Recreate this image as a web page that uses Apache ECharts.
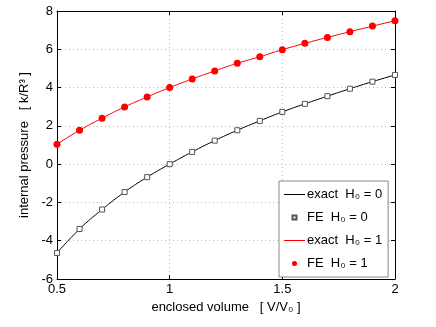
<!DOCTYPE html>
<html>
<head>
<meta charset="utf-8">
<script src="https://cdn.jsdelivr.net/npm/echarts@6/dist/echarts.min.js"></script>
<style>
    html, body { margin: 0; padding: 0; background: #fff; }
    #chart { width: 436px; height: 327px; }
</style>
</head>
<body>
<div id="chart"></div>
<script>
// enclosed volume V/V0
var vol = [0.5, 0.6, 0.7, 0.8, 0.9, 1.0, 1.1, 1.2, 1.3, 1.4, 1.5, 1.6, 1.7, 1.8, 1.9, 2.0];
// internal pressure, H0 = 0
var fe0 = [-4.64, -3.39, -2.37, -1.46, -0.68, 0.0, 0.64, 1.23, 1.77, 2.26, 2.73, 3.15, 3.55, 3.94, 4.31, 4.66];
// internal pressure, H0 = 1
var fe1 = [1.04, 1.77, 2.40, 2.99, 3.51, 4.0, 4.45, 4.87, 5.27, 5.61, 5.98, 6.31, 6.62, 6.92, 7.21, 7.49];

var names = ['exact  H\u2080 = 0', 'FE  H\u2080 = 0', 'exact  H\u2080 = 1', 'FE  H\u2080 = 1'];

function pairs(xs, ys) {
    var out = [];
    for (var i = 0; i < xs.length; i++) {
        out.push([xs[i], ys[i]]);
    }
    return out;
}

var font = 'Liberation Sans, Arial, sans-serif';
var myChart = echarts.init(document.getElementById('chart'));

var option = {
    animation: false,
    backgroundColor: '#fff',
    textStyle: { fontFamily: font },
    grid: {
        left: 57,
        right: 41,
        top: 11,
        bottom: 48
    },
    legend: {
        orient: 'vertical',
        left: 279,
        top: 181,
        data: [
            { name: names[0], itemStyle: { opacity: 0 }, lineStyle: { width: 1 } },
            // small square centred in the 21x5 icon box
            { name: names[1], icon: 'path://M0,0L0,0M21,5L21,5M8.5,0.5L12.5,0.5L12.5,4.5L8.5,4.5Z' },
            { name: names[2], itemStyle: { opacity: 0 }, lineStyle: { width: 1 } },
            { name: names[3] }
        ],
        backgroundColor: '#fff',
        borderColor: '#888',
        borderWidth: 1,
        borderRadius: 0,
        padding: [2, 6, 2, 4],
        itemWidth: 21,
        itemHeight: 5,
        itemGap: 0,
        textStyle: {
            color: '#000',
            fontSize: 13,
            fontFamily: font,
            lineHeight: 23,
            padding: [0, 0, 0, -3]
        }
    },
    xAxis: [{
        type: 'value',
        min: 0.5,
        max: 2,
        interval: 0.5,
        name: 'enclosed volume   [ V/V\u2080 ]',
        nameLocation: 'middle',
        nameGap: 22,
        nameTextStyle: { color: '#000', fontSize: 13, fontFamily: font },
        axisLine: { onZero: false, lineStyle: { color: '#000', width: 1 } },
        axisTick: { inside: true, length: 4, lineStyle: { color: '#000' } },
        axisLabel: { color: '#000', fontSize: 13, margin: 4, fontFamily: font },
        splitLine: { show: true, lineStyle: { color: '#bbb', type: [1, 3] } }
    }, {
        type: 'value',
        position: 'top',
        min: 0.5,
        max: 2,
        interval: 0.5,
        axisLine: { onZero: false, lineStyle: { color: '#000', width: 1 } },
        axisTick: { inside: true, length: 4, lineStyle: { color: '#000' } },
        axisLabel: { show: false },
        splitLine: { show: false }
    }],
    yAxis: [{
        type: 'value',
        min: -6,
        max: 8,
        interval: 2,
        name: 'internal pressure   [ k/R\u00b3 ]',
        nameLocation: 'middle',
        nameGap: 18,
        nameTextStyle: { color: '#000', fontSize: 13, fontFamily: font },
        axisLine: { onZero: false, lineStyle: { color: '#000', width: 1 } },
        axisTick: { inside: true, length: 4, lineStyle: { color: '#000' } },
        axisLabel: { color: '#000', fontSize: 13, margin: 4, fontFamily: font },
        splitLine: { show: true, lineStyle: { color: '#bbb', type: [1, 3] } }
    }, {
        type: 'value',
        position: 'right',
        min: -6,
        max: 8,
        interval: 2,
        axisLine: { onZero: false, lineStyle: { color: '#000', width: 1 } },
        axisTick: { inside: true, length: 4, lineStyle: { color: '#000' } },
        axisLabel: { show: false },
        splitLine: { show: false }
    }],
    series: [
        {
            name: names[0],
            type: 'line',
            smooth: true,
            symbol: 'none',
            data: pairs(vol, fe0),
            lineStyle: { color: '#000', width: 1 },
            itemStyle: { color: '#000' },
            z: 2
        },
        {
            name: names[1],
            type: 'scatter',
            symbol: 'rect',
            symbolSize: 5,
            data: pairs(vol, fe0),
            itemStyle: { color: '#fff', borderColor: '#555', borderWidth: 1, opacity: 1 },
            z: 3
        },
        {
            name: names[2],
            type: 'line',
            smooth: true,
            symbol: 'none',
            data: pairs(vol, fe1),
            lineStyle: { color: '#ff0000', width: 1 },
            itemStyle: { color: '#ff0000' },
            z: 2
        },
        {
            name: names[3],
            type: 'scatter',
            symbol: 'circle',
            symbolSize: 7,
            data: pairs(vol, fe1),
            itemStyle: { color: '#ff0000', opacity: 1 },
            z: 3
        }
    ]
};

myChart.setOption(option);
window.addEventListener('resize', function () {
    myChart.resize();
});
</script>
</body>
</html>
